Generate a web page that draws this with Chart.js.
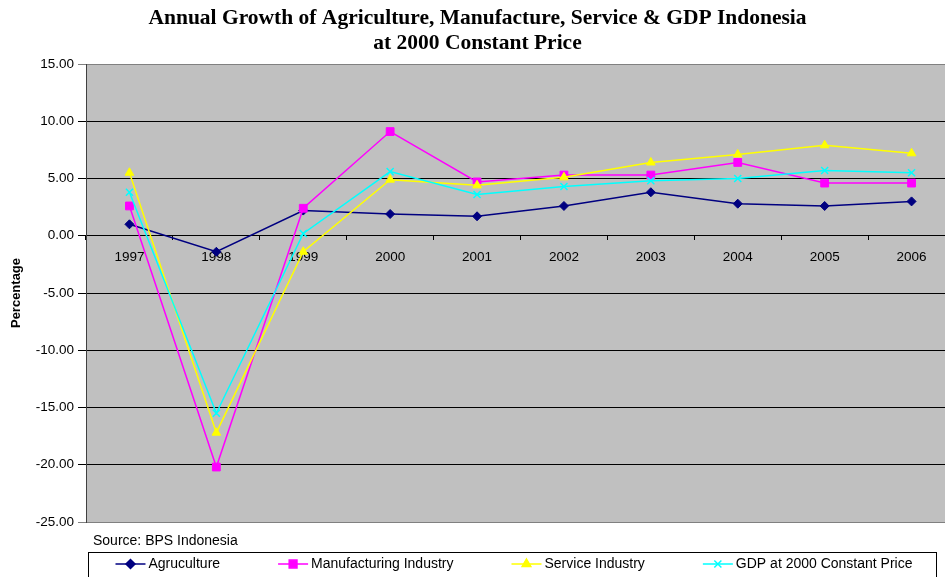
<!DOCTYPE html>
<html>
<head>
<meta charset="utf-8">
<title>Annual Growth Indonesia</title>
<script src="https://cdn.jsdelivr.net/npm/chart.js@4/dist/chart.umd.min.js"></script>
<style>
  html, body { margin: 0; padding: 0; background: #fff; overflow: hidden; }
  #wrap { width: 966px; height: 590px; }
</style>
</head>
<body>
<div id="wrap"><canvas id="chartGrowth" width="966" height="590"></canvas></div>
<script>
    const years = ['1997', '1998', '1999', '2000', '2001', '2002', '2003', '2004', '2005', '2006'];
    const agriculture = [1.0, -1.4, 2.2, 1.9, 1.7, 2.6, 3.8, 2.8, 2.6, 3.0];
    const manufacturing = [2.6, -20.2, 2.4, 9.1, 4.7, 5.3, 5.3, 6.4, 4.6, 4.6];
    const service = [5.5, -17.2, -1.4, 4.9, 4.4, 5.1, 6.4, 7.1, 7.9, 7.2];
    const gdp = [3.8, -15.5, 0.2, 5.6, 3.6, 4.3, 4.8, 5.0, 5.7, 5.5];
    const yTicks = [-25, -20, -15, -10, -5, 0, 5, 10, 15];

    const sansFont = "'Liberation Sans', Arial, sans-serif";
    const serifFont = "'Liberation Serif', 'Times New Roman', serif";

    function series(label, data, color, style, radius, order) {
        return {
            label,
            data,
            borderColor: color,
            backgroundColor: color,
            borderWidth: 1.5,
            pointStyle: style,
            pointRadius: radius,
            pointHoverRadius: radius,
            pointBorderWidth: style === 'crossRot' ? 1.5 : 1,
            tension: 0,
            order
        };
    }

    // gray plot area, source note and boxed legend under the chart
    const excelFrame = {
        id: 'excelFrame',
        beforeDraw(chart) {
            const { ctx, chartArea: a } = chart;
            ctx.save();
            ctx.fillStyle = '#c0c0c0';
            ctx.fillRect(a.left, a.top, a.right - a.left, a.bottom - a.top);
            ctx.restore();
        },
        afterDraw(chart) {
            const ctx = chart.ctx;
            ctx.save();
            ctx.font = '14px ' + sansFont;
            ctx.fillStyle = '#000';
            ctx.textBaseline = 'middle';
            ctx.textAlign = 'left';
            ctx.fillText('Source: BPS Indonesia', 93, 541);

            ctx.strokeStyle = '#000';
            ctx.lineWidth = 1;
            ctx.strokeRect(88.5, 552.5, 848, 30);

            const sets = chart.data.datasets;
            const lineW = 30, gap = 58;
            const widths = sets.map(ds => lineW + 3 + ctx.measureText(ds.label).width);
            const total = widths.reduce((s, w) => s + w, 0) + gap * (sets.length - 1);
            let x = 514 - total / 2;
            const y = 564;
            sets.forEach((ds, i) => {
                ctx.strokeStyle = ds.borderColor;
                ctx.fillStyle = ds.backgroundColor;
                ctx.lineWidth = 1.5;
                ctx.beginPath();
                ctx.moveTo(x, y);
                ctx.lineTo(x + lineW, y);
                ctx.stroke();
                Chart.helpers.drawPoint(ctx, {
                    pointStyle: ds.pointStyle,
                    radius: ds.pointRadius,
                    borderWidth: ds.pointBorderWidth,
                    rotation: 0
                }, x + lineW / 2, y);
                ctx.fillStyle = '#000';
                ctx.fillText(ds.label, x + lineW + 3, y);
                x += widths[i] + gap;
            });
            ctx.restore();
        }
    };

    const ctx = document.getElementById('chartGrowth').getContext('2d');
    new Chart(ctx, {
        type: 'line',
        data: {
            labels: years,
            datasets: [
                series('Agruculture', agriculture, '#000080', 'rectRot', 4.5, 4),
                series('Manufacturing Industry', manufacturing, '#ff00ff', 'rect', 5.5, 3),
                series('Service Industry', service, '#ffff00', 'triangle', 5, 2),
                series('GDP at 2000 Constant Price', gdp, '#00ffff', 'crossRot', 5, 1)
            ]
        },
        options: {
            responsive: false,
            animation: false,
            events: [],
            layout: { padding: { left: 0, right: 11, top: 0, bottom: 68 } },
            plugins: {
                legend: { display: false },
                tooltip: { enabled: false },
                title: {
                    display: true,
                    text: ['Annual Growth of Agriculture, Manufacture, Service & GDP Indonesia', 'at 2000 Constant Price'],
                    color: '#000',
                    font: { family: serifFont, size: 21.5, weight: 'bold', lineHeight: 25 / 21.5 },
                    padding: { top: 6, bottom: 8 }
                }
            },
            scales: {
                x: {
                    type: 'category',
                    position: { y: 0 },
                    offset: true,
                    grid: {
                        offset: true,
                        drawOnChartArea: false,
                        drawTicks: true,
                        tickLength: 4,
                        color: '#000'
                    },
                    border: { display: true, color: '#000', width: 1 },
                    ticks: {
                        color: '#000',
                        font: { family: sansFont, size: 13.5 },
                        padding: 9,
                        maxRotation: 0,
                        autoSkip: false
                    }
                },
                y: {
                    min: -25,
                    max: 15,
                    afterBuildTicks: scale => {
                        scale.ticks = yTicks.map(v => ({ value: v }));
                    },
                    afterFit: scale => {
                        scale.width = 86;
                    },
                    grid: {
                        color: c => (c.tick && (c.tick.value === 15 || c.tick.value === -25)) ? '#808080' : '#000',
                        lineWidth: 1,
                        tickLength: 8
                    },
                    border: { display: true, color: '#404040', width: 1 },
                    ticks: {
                        color: '#000',
                        font: { family: sansFont, size: 13.5 },
                        padding: 4,
                        callback: v => Number(v).toFixed(2)
                    },
                    title: {
                        display: true,
                        text: 'Percentage',
                        color: '#000',
                        font: { family: sansFont, size: 13, weight: 'bold' },
                        padding: { top: 9 }
                    }
                }
            }
        },
        plugins: [excelFrame]
    });
</script>
</body>
</html>
